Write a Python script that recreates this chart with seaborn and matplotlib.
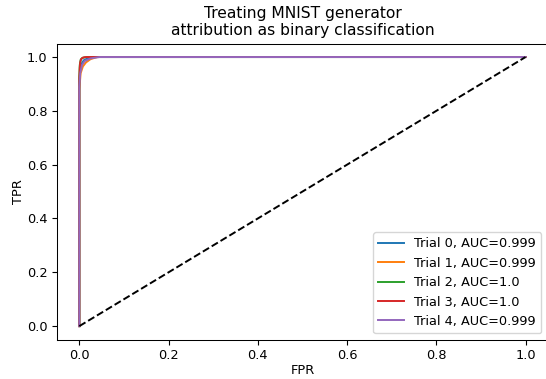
import matplotlib
matplotlib.use('Agg')
import matplotlib.pyplot as plt
import seaborn as sns

# ROC curves (fpr, tpr)
trial_labels = ['Trial 0, AUC=0.999', 'Trial 1, AUC=0.999', 'Trial 2, AUC=1.0',
                'Trial 3, AUC=1.0', 'Trial 4, AUC=0.999']
fpr_0 = [0.0, 0.0, 0.002, 0.005, 0.010, 0.020, 0.035, 1.0]
tpr_0 = [0.0, 0.90, 0.95, 0.975, 0.988, 0.996, 1.0, 1.0]
fpr_1 = [0.0, 0.0, 0.003, 0.008, 0.015, 0.025, 0.040, 1.0]
tpr_1 = [0.0, 0.88, 0.94, 0.965, 0.980, 0.992, 1.0, 1.0]
fpr_2 = [0.0, 0.0, 0.001, 0.003, 0.006, 0.012, 0.020, 1.0]
tpr_2 = [0.0, 0.93, 0.97, 0.990, 0.996, 0.999, 1.0, 1.0]
fpr_3 = [0.0, 0.0, 0.001, 0.002, 0.004, 0.008, 0.015, 1.0]
tpr_3 = [0.0, 0.92, 0.96, 0.980, 0.992, 0.998, 1.0, 1.0]
fpr_4 = [0.0, 0.0, 0.002, 0.006, 0.012, 0.025, 0.045, 1.0]
tpr_4 = [0.0, 0.89, 0.94, 0.970, 0.985, 0.995, 1.0, 1.0]
fprs = [fpr_0, fpr_1, fpr_2, fpr_3, fpr_4]
tprs = [tpr_0, tpr_1, tpr_2, tpr_3, tpr_4]
chance = [0.0, 1.0]

colors = sns.color_palette('tab10', 5)

plt.rcParams['font.size'] = 9.3
plt.rcParams['axes.titlesize'] = 11.2
plt.rcParams['axes.linewidth'] = 0.75

fig = plt.figure(figsize=(5.46, 3.79), dpi=100)
# right edge of the axes falls just outside the picture, as in the reference
ax = fig.add_axes([0.1044, 0.104, 0.899, 0.781])
ax.spines['right'].set_visible(False)

for fpr, tpr, lab, c in zip(fprs, tprs, trial_labels, colors):
    sns.lineplot(x=fpr, y=tpr, ax=ax, label=lab, color=c,
                 estimator=None, sort=False, linewidth=1.4)
sns.lineplot(x=chance, y=chance, ax=ax, color='k', linestyle='--',
             estimator=None, sort=False, linewidth=1.4)

ax.set_xlim(-0.05, 1.05)
ax.set_ylim(-0.05, 1.05)
ax.set_xticks([0.0, 0.2, 0.4, 0.6, 0.8, 1.0])
ax.set_yticks([0.0, 0.2, 0.4, 0.6, 0.8, 1.0])
ax.set_xlabel('FPR', labelpad=1)
ax.set_ylabel('TPR', labelpad=1)
ax.set_title('Treating MNIST generator\nattribution as binary classification')
ax.legend(loc='lower right')

fig.savefig('out.png', dpi=100)
